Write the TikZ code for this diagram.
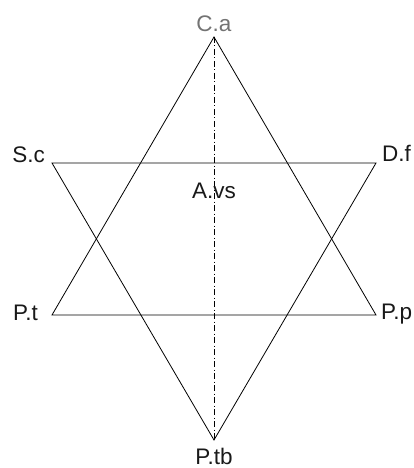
\documentclass[tikz,border=0pt]{standalone}
\usepackage{fontspec}
\setmainfont{Liberation Sans}
\begin{document}
\begin{tikzpicture}[x=1pt,y=-1pt,
  lbl/.style={inner sep=0pt,font=\fontsize{22.5}{26}\selectfont,text=black!90},
  edge/.style={line width=0.8pt,black},
  axisline/.style={line width=0.7pt,black,dash pattern=on 6pt off 2.5pt on 1pt off 2.5pt}]
\useasboundingbox (0,0) rectangle (414,468);
% vertices
\coordinate (ca) at (214,37);
\coordinate (pt) at (52,315);
\coordinate (pp) at (376,315);
\coordinate (sc) at (52,163);
\coordinate (df) at (376,163);
\coordinate (ptb) at (214,440);
% triangles
\draw[edge,line join=miter] (ca) -- (pt) -- (pp) -- cycle;
\draw[edge,line join=miter] (sc) -- (df) -- (ptb) -- cycle;
% axis
\draw[axisline] (ca) -- (ptb);
% labels
\node[lbl,text=black!55,anchor=base] (lca) at (214,32) {C.a};
\node[lbl,anchor=base east] (lsc) at (45,162) {S.c};
\node[lbl,anchor=base west] (ldf) at (382,161) {D.f};
\node[lbl,anchor=base west] (lavs) at (192,198) {A.vs};
\node[lbl,anchor=base east] (lpt) at (38,320) {P.t};
\node[lbl,anchor=base west] (lpp) at (381,319) {P.p};
\node[lbl,anchor=base] (lptb) at (214,464) {P.tb};
\end{tikzpicture}
\end{document}
